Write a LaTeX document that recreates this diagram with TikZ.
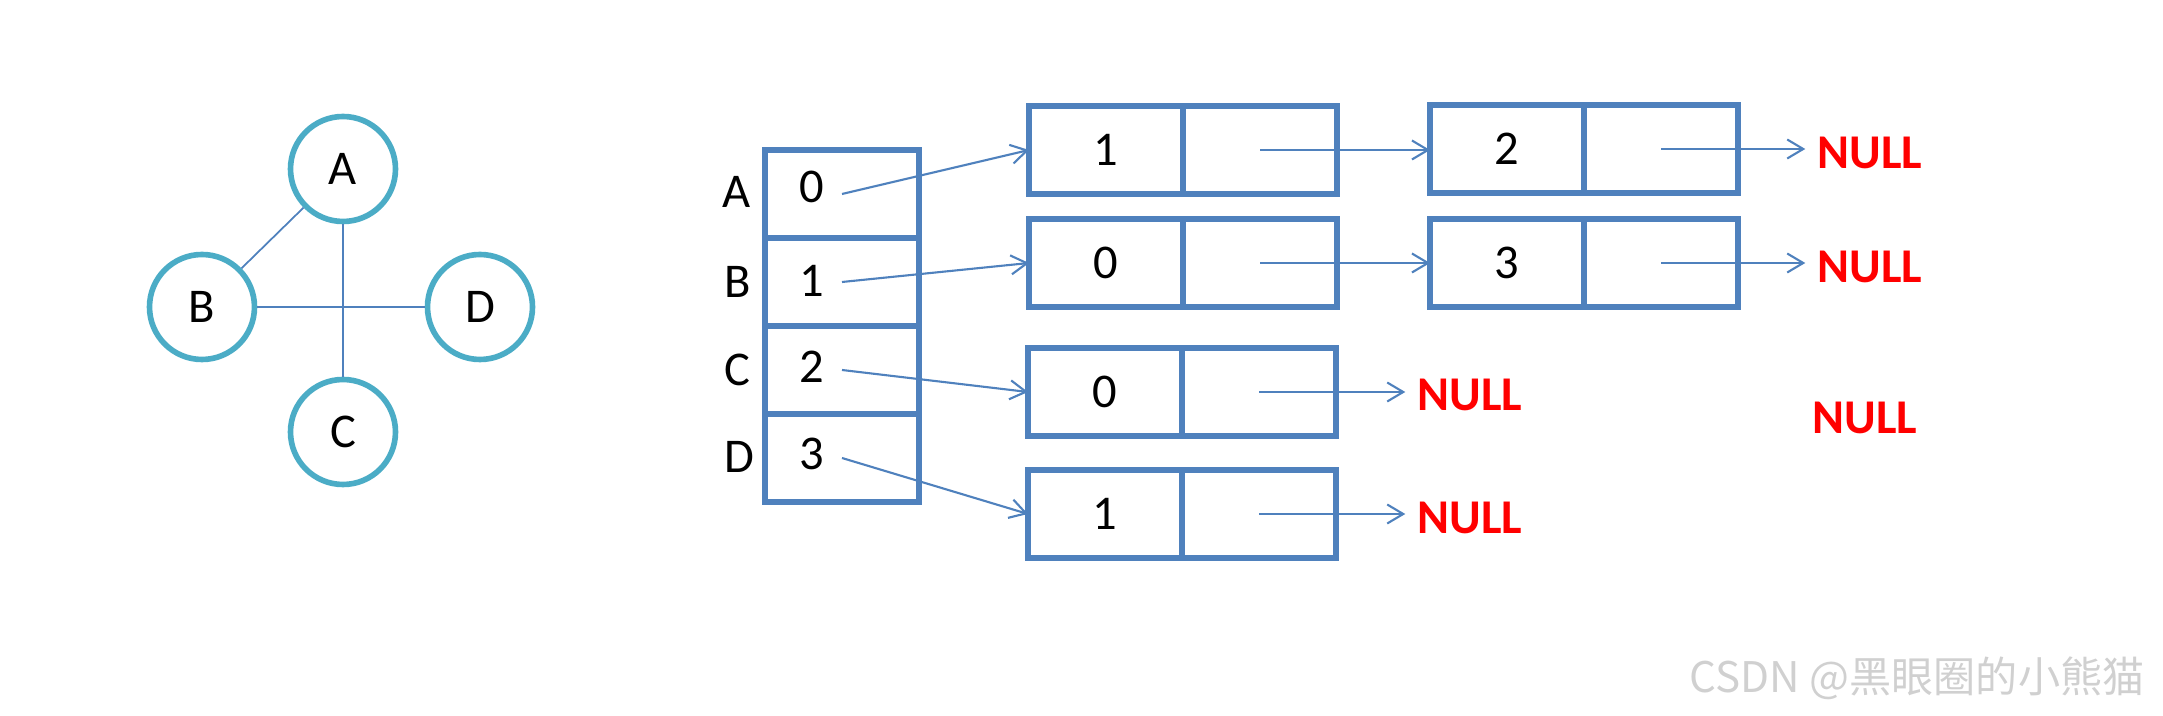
\documentclass[tikz,border=0pt]{standalone}
\usepackage{fontspec}
\setmainfont{Carlito}
\newfontfamily\cjkfont{Noto Sans CJK SC}
\usepackage{tikz}
\usetikzlibrary{arrows.meta}
\definecolor{ringblue}{HTML}{4BACC6}
\definecolor{boxblue}{HTML}{4F81BD}
\definecolor{nullred}{HTML}{FF0000}
\definecolor{markgray}{HTML}{D0D0D0}

\begin{document}
\begin{tikzpicture}[x=0.1mm,y=-0.1mm,
    every node/.style={font=\fontsize{13.8}{16}\selectfont},
    vert/.style={circle,draw=ringblue,fill=white,line width=1.6pt,minimum size=10.5mm,inner sep=0pt},
    cell/.style={draw=boxblue,line width=1.8pt,minimum width=15.4mm,minimum height=8.8mm,inner sep=0pt,outer sep=0pt},
    ptr/.style={draw=boxblue,line width=0.6pt,-{Straight Barb[length=1.6mm,width=1.9mm]}},
    nul/.style={text=nullred,font=\fontsize{13.8}{16}\selectfont\bfseries}]
    \useasboundingbox (0,0) rectangle (2163,716);

    % the graph
    \node[vert] (vA) at (343,169) {A};
    \node[vert] (vB) at (202,307) {B};
    \node[vert] (vD) at (480,307) {D};
    \node[vert] (vC) at (343,432) {C};

    \draw[boxblue,line width=0.5pt] (vA) -- (vC);
    \draw[boxblue,line width=0.5pt] (vB) -- (vD);
    \draw[boxblue,line width=0.5pt] (vB) -- (vA);

    % vertex array
    \node[cell] (hA) at (842,194) {};
    \node[cell] (hB) at (842,282) {};
    \node[cell] (hC) at (842,370) {};
    \node[cell] (hD) at (842,458) {};

    \node (lA) at (737,192) {A};
    \node (lB) at (738,282) {B};
    \node (lC) at (737,370) {C};
    \node (lD) at (739,457) {D};

    \node (iA) at (812,187) {0};
    \node (iB) at (812,281) {1};
    \node (iC) at (812,367) {2};
    \node (iD) at (812,454) {3};

    % edge lists
    \node[cell] (nA1) at (1106,150) {1};
    \node[cell] (nA1p) at (1260,150) {};
    \node[cell] (nA2) at (1507,149) {2};
    \node[cell] (nA2p) at (1661,149) {};
    \node[nul] (nullA) at (1870,153) {NULL};

    \node[cell] (nB1) at (1106,263) {0};
    \node[cell] (nB1p) at (1260,263) {};
    \node[cell] (nB2) at (1507,263) {3};
    \node[cell] (nB2p) at (1661,263) {};
    \node[nul] (nullB) at (1870,267) {NULL};

    \node[cell] (nC1) at (1105,392) {0};
    \node[cell] (nC1p) at (1259,392) {};
    \node[nul] (nullC) at (1470,395) {NULL};

    \node[cell] (nD1) at (1105,514) {1};
    \node[cell] (nD1p) at (1259,514) {};
    \node[nul] (nullD) at (1470,518) {NULL};

    \node[nul] (nullX) at (1865,418) {NULL};

    \draw[ptr] (hA.center) -- (nA1.west);
    \draw[ptr] (hB.center) -- (nB1.west);
    \draw[ptr] (hC.center) -- (nC1.west);
    \draw[ptr] (hD.center) -- (nD1.west);

    \draw[ptr] (nA1p.center) -- (nA1p.center -| nA2.west);
    \draw[ptr] (nB1p.center) -- (nB1p.center -| nB2.west);
    \draw[ptr] (nA2p.center) -- (nA2p.center -| nullA.west);
    \draw[ptr] (nB2p.center) -- (nB2p.center -| nullB.west);
    \draw[ptr] (nC1p.center) -- (nC1p.center -| nullC.west);
    \draw[ptr] (nD1p.center) -- (nD1p.center -| nullD.west);

    \node[anchor=east,text=markgray,font=\cjkfont\fontsize{12}{14}\selectfont] (mark) at (2157,678) {CSDN @黑眼圈的小熊猫};
\end{tikzpicture}
\end{document}
